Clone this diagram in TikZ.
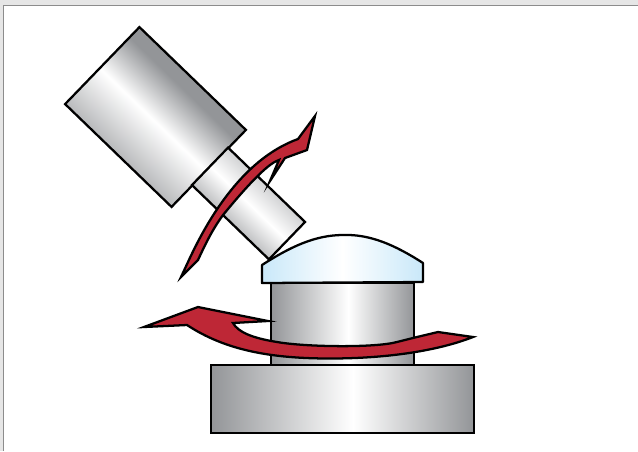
\documentclass[tikz,border=0pt]{standalone}
\usepackage{xcolor}
\usepackage{tikz}

\definecolor{steeldark}{HTML}{939598}
\definecolor{steelmid}{HTML}{C8C9CB}
\definecolor{capblue}{HTML}{C9E8F9}
\definecolor{flowred}{HTML}{BE2736}
\definecolor{framegray}{HTML}{E6E6E6}
\definecolor{frameline}{HTML}{8C8C8C}

\pgfdeclarehorizontalshading{steelh}{100bp}{color(0bp)=(steeldark); color(25bp)=(steeldark); color(52bp)=(white); color(75bp)=(steeldark); color(100bp)=(steeldark)}
\pgfdeclareverticalshading{headv}{100bp}{color(0bp)=(steeldark); color(31bp)=(steeldark!85!white); color(49bp)=(white); color(61bp)=(steeldark); color(100bp)=(steeldark)}
\pgfdeclareverticalshading{neckv}{100bp}{color(0bp)=(steeldark); color(36bp)=(steeldark!70!white); color(50bp)=(white); color(64bp)=(steelmid); color(100bp)=(steelmid)}
\pgfdeclarehorizontalshading{caph}{100bp}{color(0bp)=(capblue); color(25bp)=(capblue); color(50bp)=(white); color(75bp)=(capblue); color(100bp)=(capblue)}

\tikzset{
    part/.style={draw=black, line width=1.7pt, rectangle, inner sep=0pt, anchor=center},
    flow/.style={draw=black, line width=1.7pt, fill=flowred, miter limit=12},
}

\begin{document}
\begin{tikzpicture}[x=0.75pt, y=-0.75pt]
    \useasboundingbox (0,0) rectangle (638,451);
    % window frame
    \fill[white] (0,0) rectangle (638,451);
    \fill[framegray] (0,0) rectangle (638,5);
    \fill[framegray] (0,0) rectangle (3,451);
    \draw[frameline, line width=1pt] (3.5,451) -- (3.5,5.5) -- (638,5.5);

    % lens head and neck
    \node[part, shading=headv, shading angle=-44, rotate=-44, minimum width=148*0.75pt, minimum height=107*0.75pt] (head) at (155.5,117) {};
    \node[part, shading=neckv, shading angle=-44, rotate=-44, minimum width=107*0.75pt, minimum height=52*0.75pt] (neck) at (248.5,203.5) {};

    % stage
    \node[part, shading=steelh, minimum width=143*0.75pt, minimum height=82*0.75pt] (column) at (342.5,324) {};
    \node[part, shading=steelh, minimum width=263*0.75pt, minimum height=68*0.75pt] (base) at (342.5,399) {};

    % sample cap
    \draw[draw=black, line width=1.7pt, shading=caph, line join=round] (262,283) -- (423,282) -- (423,263)
        .. controls (395,245) and (370,234) .. (343,235)
        .. controls (315,235) and (290,247) .. (262,265) -- cycle;

    % rotation arrow
    \draw[flow] (144,327) -- (198,307) -- (268,321) -- (233,323)
        .. controls (238,332) and (252,338) .. (277,342)
        .. controls (305,347) and (375,348) .. (397,342)
        -- (417,337) -- (438,332) -- (473,337)
        .. controls (440,350) and (390,358.5) .. (330,358.5)
        .. controls (270,358.5) and (225,350) .. (187,325) -- cycle;

    % tilt arrow
    \draw[flow] (181,277) -- (188,262)
        .. controls (205,225) and (240,160) .. (298,139)
        -- (315,116) -- (307,150) -- (285,158) -- (270,181) -- (279,160)
        .. controls (269,163) and (251,181) .. (223,215)
        .. controls (212,230) and (205,245) .. (198,260) -- cycle;
\end{tikzpicture}
\end{document}
